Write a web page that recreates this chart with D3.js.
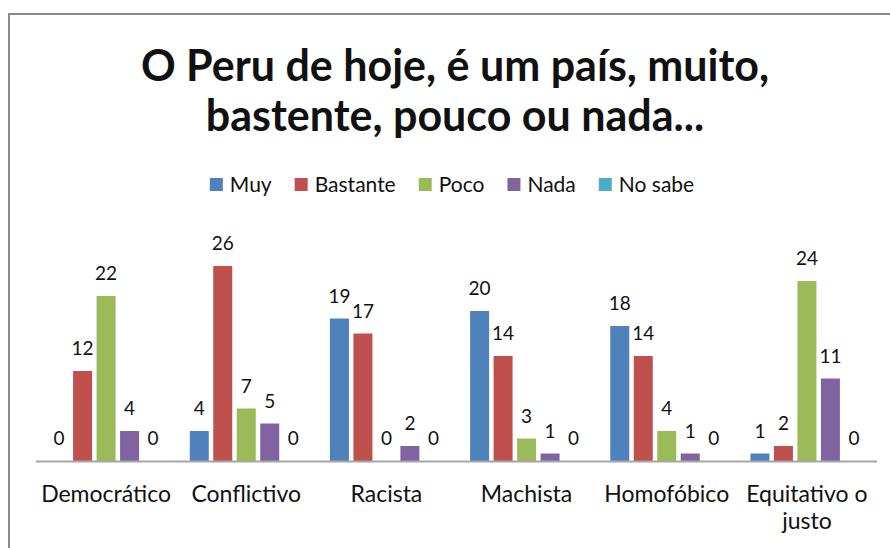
<!DOCTYPE html>
<html>
<head>
<meta charset="utf-8">
<script src="https://cdn.jsdelivr.net/npm/d3@7"></script>
<style>
  body { margin: 0; background: #fff; }
  text { font-family: Lato, "Open Sans", sans-serif; fill: #111; }
</style>
</head>
<body>
<div id="chart"></div>
<script>
// --- Data
var titleLines = ['O Peru de hoje, é um país, muito,', 'bastente, pouco ou nada...'];
var categories = ['Democrático', 'Conflictivo', 'Racista', 'Machista', 'Homofóbico', 'Equitativo o justo'];
var series = ['Muy', 'Bastante', 'Poco', 'Nada', 'No sabe'];
var colors = ['#4F81BD', '#C0504D', '#9BBB59', '#8064A2', '#4BACC6'];
var muy = [0, 4, 19, 20, 18, 1];
var bastante = [12, 26, 17, 14, 14, 2];
var poco = [22, 7, 0, 3, 4, 24];
var nada = [4, 5, 2, 1, 1, 11];
var noSabe = [0, 0, 0, 0, 0, 0];
var values = [muy, bastante, poco, nada, noSabe];

var width = 890, height = 548;
var baseY = 461;

var svg = d3.select('#chart').append('svg')
  .attr('width', width)
  .attr('height', height);

svg.append('rect')
  .attr('width', width).attr('height', height)
  .attr('fill', '#fff');

// --- Chart border (cropped on right and bottom)
svg.append('rect')
  .attr('x', 9).attr('y', 14)
  .attr('width', width + 20).attr('height', height + 20)
  .attr('fill', 'none')
  .attr('stroke', '#8a8a8a')
  .attr('stroke-width', 2);

// --- Title
svg.selectAll('.title').data(titleLines).enter()
  .append('text')
  .attr('class', 'title')
  .attr('x', 455)
  .attr('y', function(d, i) { return 81 + i * 50; })
  .attr('text-anchor', 'middle')
  .style('font-size', '43px')
  .style('font-weight', 'bold')
  .text(function(d) { return d; });

// --- Scales
var x0 = d3.scaleBand().domain(categories).range([36, 877]).paddingInner(0.162).paddingOuter(0.081);
var x1 = d3.scaleBand().domain(series).range([0, x0.bandwidth()]);
var y = d3.scaleLinear().domain([0, 26]).range([baseY, 266]);
var barW = 19;
var off = (x1.bandwidth() - barW) / 2;

// --- Flatten data
var cells = [];
series.forEach(function(s, si) {
  categories.forEach(function(c, ci) {
    cells.push({ series: s, cat: c, value: values[si][ci], color: colors[si] });
  });
});

svg.selectAll('.bar').data(cells).enter()
  .append('rect')
  .attr('class', 'bar')
  .attr('x', function(d) { return x0(d.cat) + x1(d.series) + off; })
  .attr('y', function(d) { return y(d.value); })
  .attr('width', barW)
  .attr('height', function(d) { return baseY - y(d.value); })
  .attr('fill', function(d) { return d.color; });

svg.selectAll('.val').data(cells).enter()
  .append('text')
  .attr('class', 'val')
  .attr('x', function(d) { return x0(d.cat) + x1(d.series) + x1.bandwidth() / 2; })
  .attr('y', function(d) { return y(d.value) - 16; })
  .attr('text-anchor', 'middle')
  .style('font-size', '19px')
  .text(function(d) { return d.value; });

// --- X axis line
svg.append('line')
  .attr('x1', 36).attr('x2', 877)
  .attr('y1', baseY + 0.5).attr('y2', baseY + 0.5)
  .attr('stroke', '#a6a6a6')
  .attr('stroke-width', 2);

// --- Category labels (wrap "Equitativo o justo")
var catLabels = svg.selectAll('.cat').data(categories).enter()
  .append('text')
  .attr('class', 'cat')
  .attr('text-anchor', 'middle')
  .style('font-size', '23px');

catLabels.each(function(d) {
  var lines = d === 'Equitativo o justo' ? ['Equitativo o', 'justo'] : [d];
  var cx = x0(d) + x0.bandwidth() / 2;
  d3.select(this).selectAll('tspan').data(lines).enter()
    .append('tspan')
    .attr('x', cx)
    .attr('y', function(l, i) { return 502 + i * 27; })
    .text(function(l) { return l; });
});

// --- Legend
var legend = svg.append('g');
var lx = 0;
series.forEach(function(s, i) {
  var g = legend.append('g').attr('transform', 'translate(' + lx + ',0)');
  g.append('rect')
    .attr('x', 0).attr('y', 178)
    .attr('width', 13).attr('height', 13)
    .attr('fill', colors[i]);
  var t = g.append('text')
    .attr('x', 20).attr('y', 192)
    .style('font-size', '21px')
    .text(s);
  lx += 20 + t.node().getComputedTextLength() + 23;
});
var lw = lx - 23;
legend.attr('transform', 'translate(' + (452 - lw / 2) + ',0)');
</script>
</body>
</html>
